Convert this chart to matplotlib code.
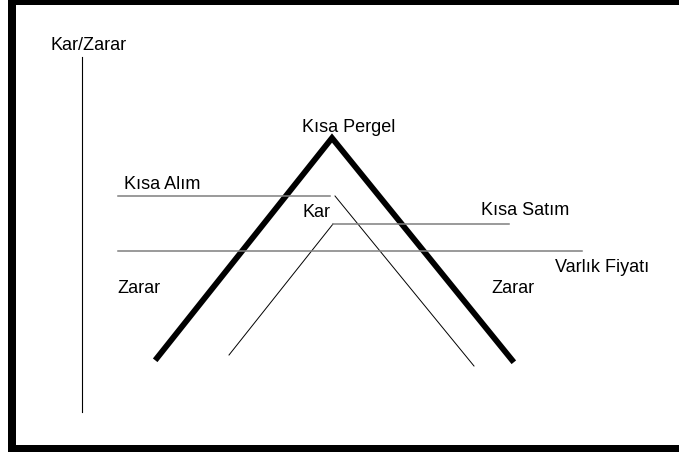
import matplotlib
matplotlib.use("Agg")
import matplotlib.pyplot as plt
from matplotlib.patches import Rectangle

plt.rcParams['font.family'] = ['Liberation Sans', 'DejaVu Sans']

# Diagram coordinates (pixel-like units, y down)
axis_x = [82, 82]
axis_y = [57, 412]

pergel_x = [157, 332, 512]
pergel_y = [358, 138, 360]

alim_flat_x = [118, 330]
alim_flat_y = [196, 196]
alim_down_x = [335, 474]
alim_down_y = [196, 366]

satim_up_x = [229, 333]
satim_up_y = [355, 224]
satim_flat_x = [333, 509]
satim_flat_y = [224, 224]

price_x = [118, 582]
price_y = [251, 251]

labels = ["Kar/Zarar", "Kısa Pergel", "Kısa Alım", "Kar", "Kısa Satım",
          "Varlık Fiyatı", "Zarar", "Zarar"]
label_x = [50, 302, 124, 302, 481, 555, 117, 491]
label_y = [50, 132, 189, 217, 215, 272, 293, 293]

fig = plt.figure(figsize=(6.79, 4.55), dpi=100)
ax = fig.add_axes([0, 0, 1, 1])
ax.set_xlim(0, 679)
ax.set_ylim(455, 0)
ax.axis('off')

# frame
ax.add_patch(Rectangle((8, 0), 8, 452, color='black', lw=0))
ax.add_patch(Rectangle((8, 0), 671, 5, color='black', lw=0))
ax.add_patch(Rectangle((8, 445), 671, 6.5, color='black', lw=0))

ax.plot(axis_x, axis_y, color='black', lw=0.8)
ax.plot(pergel_x, pergel_y, color='black', lw=4.2, solid_joinstyle='miter')
ax.plot(alim_flat_x, alim_flat_y, color='#7f7f7f', lw=1.1)
ax.plot(alim_down_x, alim_down_y, color='black', lw=0.7)
ax.plot(satim_up_x, satim_up_y, color='black', lw=0.7)
ax.plot(satim_flat_x, satim_flat_y, color='#7f7f7f', lw=1.1)
ax.plot(price_x, price_y, color='#7f7f7f', lw=1.1)

for t, x, y in zip(labels, label_x, label_y):
    ax.text(x, y, t, fontsize=13, ha='left', va='baseline', color='black')

fig.savefig('out.png', dpi=100)
